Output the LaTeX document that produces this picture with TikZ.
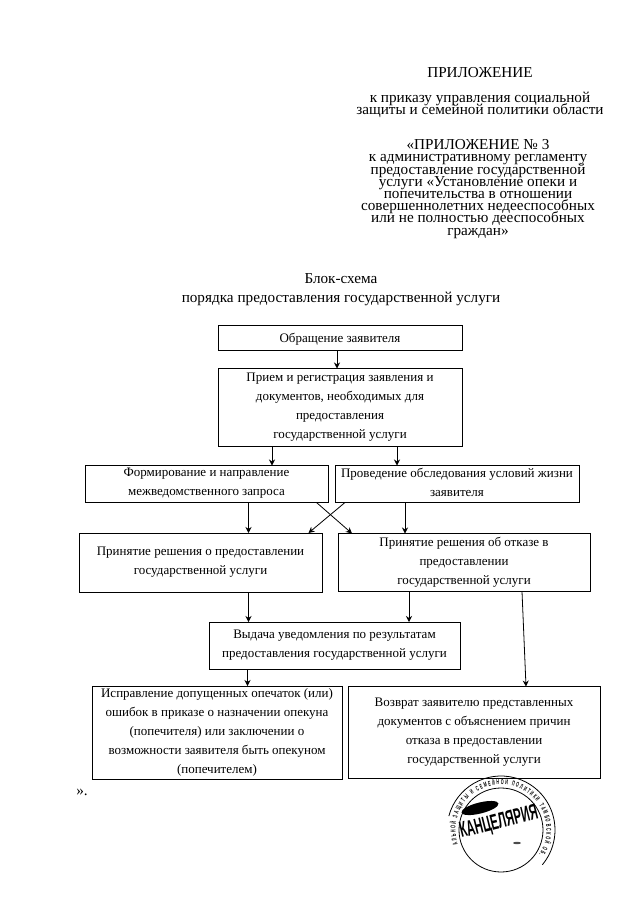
\documentclass[tikz,border=0pt]{standalone}
\usepackage{fontspec}
\setmainfont{Liberation Serif}
\usetikzlibrary{positioning}
\usetikzlibrary{arrows.meta}
\usetikzlibrary{decorations.text}
\newfontfamily\sealfont[FakeStretch=0.52]{Liberation Sans}
\tikzset{
  % A step of the procedure
  stepbox/.style 2 args={
    draw=black, line width=0.9pt, fill=none, rectangle, align=center,
    font=\fontsize{13}{19}\selectfont, inner sep=0pt, outer sep=0pt,
    execute at begin node={\rule{0pt}{13pt}},
    execute at end node={\rule[-4pt]{0pt}{4pt}},
    minimum width=#1, minimum height=#2},
  % Heading blocks
  headtext/.style={align=center, inner sep=0pt, font=\fontsize{15.2}{12.2}\selectfont\lineskiplimit-20pt},
  % Relationships
  flow/.style={-{Stealth[length=6pt,width=6pt]}, draw=black, line width=0.8pt},
  % The office seal
  sealring/.style={draw=black, line width=0.8pt},
}
\begin{document}
\begin{tikzpicture}[x=1pt,y=-1pt]
\useasboundingbox (0,0) rectangle (640,905);

\node[headtext] (title) at (480,73) {ПРИЛОЖЕНИЕ};
\node[headtext] (order) at (480,105) {к приказу управления социальной\\защиты и семейной политики области};
\node[headtext] (annex) at (478,189) {«ПРИЛОЖЕНИЕ № 3\\к административному регламенту\\предоставление государственной\\услуги «Установление опеки и\\попечительства в отношении\\совершеннолетних недееспособных\\или не полностью дееспособных\\граждан»};
\node[headtext, font=\fontsize{15.2}{19}\selectfont] (scheme) at (341,289.5) {Блок-схема\\порядка предоставления государственной услуги};

\node[stepbox={244pt}{25pt}] (appeal) at (340,338) {Обращение заявителя};
\node[stepbox={244pt}{78pt}, below=18pt of appeal] (intake) {Прием и регистрация заявления и\\документов, необходимых для\\предоставления\\государственной услуги};
\node[stepbox={244pt}{37pt}, below right=19pt and -127pt of intake] (survey) {Проведение обследования условий жизни\\заявителя};
\node[stepbox={243pt}{37pt}, left=7pt of survey] (request) {Формирование и направление\\межведомственного запроса};
\node[stepbox={252pt}{58pt}, below right=31pt and -241pt of survey.south east] (refusal) {Принятие решения об отказе в\\предоставлении\\государственной услуги};
\node[stepbox={243pt}{59pt}, left=16pt of refusal] (grant) {Принятие решения о предоставлении\\государственной услуги};
\node[stepbox={251pt}{47pt}] (notice) at (334.5,645.5) {Выдача уведомления по результатам\\предоставления государственной услуги};
\node[stepbox={250pt}{93pt}] (fixing) at (217,732.5) {Исправление допущенных опечаток (или)\\ошибок в приказе о назначении опекуна\\(попечителя) или заключении о\\возможности заявителя быть опекуном\\(попечителем)};
\node[stepbox={252pt}{92pt}, right=6pt of fixing] (giveback) {Возврат заявителю представленных\\документов с объяснением причин\\отказа в предоставлении\\государственной услуги};
\node[headtext] (closing) at (82,792) {».};

\draw[flow] ([xshift=-3pt]appeal.south) -- ([xshift=-3pt]appeal.south |- intake.north);
\draw[flow] ([xshift=-68pt]intake.south) -- ([xshift=-68pt]intake.south |- request.north);
\draw[flow] ([xshift=57pt]intake.south) -- ([xshift=57pt]intake.south |- survey.north);
\draw[flow] ([xshift=42pt]request.south) -- ([xshift=42pt]request.south |- grant.north);
\draw[flow] ([xshift=110pt]request.south) -- ([xshift=-112pt]refusal.north);
\draw[flow] ([xshift=-112pt]survey.south) -- ([xshift=108pt]grant.north);
\draw[flow] ([xshift=-52pt]survey.south) -- ([xshift=-52pt]survey.south |- refusal.north);
\draw[flow] ([xshift=48pt]grant.south) -- ([xshift=48pt]grant.south |- notice.north);
\draw[flow] ([xshift=-55pt]refusal.south) -- ([xshift=-55pt]refusal.south |- notice.north);
\draw[flow] ([xshift=58pt]refusal.south) -- ([xshift=52pt]giveback.north);
\draw[flow] ([xshift=-87pt]notice.south) -- ([xshift=-87pt]notice.south |- fixing.north);

% seal
\coordinate (sealc) at (501,830);
\draw[sealring] (sealc) circle[radius=42pt];
\draw[sealring] (sealc) ++(165:54pt) arc[start angle=165, delta angle=-205, radius=54pt];
\path[decorate, decoration={text along path, text align=fit to path,
    text={|\fontsize{7}{8}\sealfont\bfseries|АЛЬНОЙ ЗАЩИТЫ И СЕМЕЙНОЙ ПОЛИТИКИ ТАМБОВСКОЙ ОБ.}}]
  (sealc) ++(199:45.5pt) arc[start angle=199, delta angle=-232, radius=45.5pt];
\node[rotate=14, inner sep=0pt, font=\fontsize{22}{22}\sealfont\bfseries] (office) at (499,823) {КАНЦЕЛЯРИЯ};
\fill[black, rotate around={14:(480,808)}] (480,808) ellipse[x radius=19pt, y radius=5.5pt];
\fill[black!70] (517,843) ellipse[x radius=4pt, y radius=1.2pt];

\end{tikzpicture}
\end{document}
